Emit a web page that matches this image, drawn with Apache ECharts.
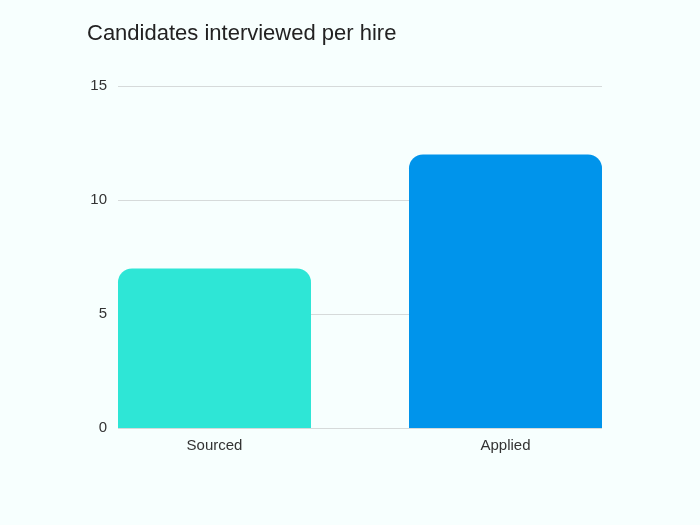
<!DOCTYPE html>
<html>
<head>
<meta charset="utf-8">
<script src="https://cdn.jsdelivr.net/npm/echarts@6/dist/echarts.min.js"></script>
<style>
html,body{margin:0;padding:0;background:#f7fffe;}
#chart{width:700px;height:525px;}
</style>
</head>
<body>
<div id="chart"></div>
<script>
var categories = ['Sourced', 'Applied'];
var values = [7, 12];
var barColors = ['#2ee6d6', '#0094eb'];
var yTicks = [0, 5, 10, 15];

var chart = echarts.init(document.getElementById('chart'));
var font = 'Liberation Sans';

chart.setOption({
	backgroundColor: '#f7fffe',
	animation: false,
	title: {
		text: 'Candidates interviewed per hire',
		left: 82,
		top: 18,
		textStyle: {fontFamily: font, fontSize: 22, fontWeight: 'normal', color: '#222'}
	},
	grid: [
		// grid with the gridlines
		{left: 118, right: 98, top: 86, bottom: 97},
		// wider grid so bars sit at the outer edges
		{left: 69, right: 49, top: 86, bottom: 97}
	],
	xAxis: [
		{gridIndex: 0, type: 'value', min: 0, max: 1, show: false},
		{
			gridIndex: 1, type: 'category', data: categories,
			axisLine: {show: false}, axisTick: {show: false},
			axisLabel: {fontFamily: font, fontSize: 15, color: '#333', margin: 10}
		}
	],
	yAxis: [
		{
			gridIndex: 0, type: 'value', min: yTicks[0], max: yTicks[yTicks.length - 1], interval: 5,
			axisLine: {show: false}, axisTick: {show: false},
			axisLabel: {fontFamily: font, fontSize: 15, color: '#333', margin: 11, padding: [2, 0, 0, 0]},
			splitLine: {lineStyle: {color: '#d6dada', width: 1}}
		},
		{gridIndex: 1, type: 'value', min: 0, max: 15, show: false}
	],
	series: [{
		type: 'bar',
		xAxisIndex: 1,
		yAxisIndex: 1,
		barWidth: 193,
		data: values.map(function(v, i){
			return {value: v, itemStyle: {color: barColors[i], borderRadius: [14, 14, 0, 0]}};
		})
	}]
});
</script>
</body>
</html>
